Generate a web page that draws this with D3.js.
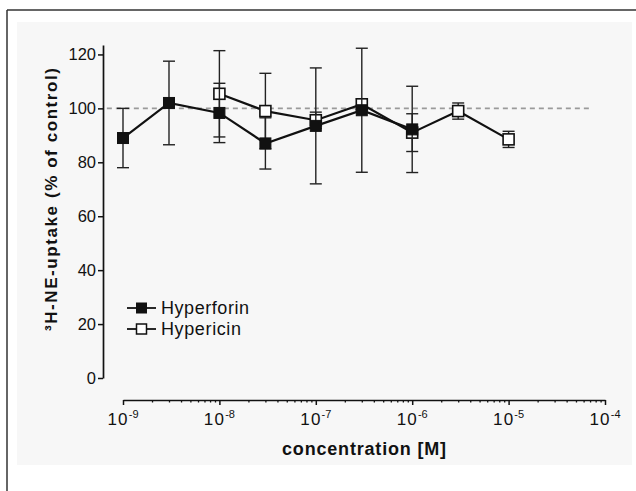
<!DOCTYPE html>
<html><head><meta charset="utf-8">
<script src="https://cdn.jsdelivr.net/npm/d3@7"></script>
<style>
html,body{margin:0;padding:0;background:#fff;}
svg{display:block;font-family:"Liberation Sans",Arial,Helvetica,sans-serif;}
</style></head>
<body>
<svg id="chart" width="636" height="491"></svg>
<script>
// ---- data ----
const hyperforinConc = [1e-9, 3e-9, 1e-8, 3e-8, 1e-7, 3e-7, 1e-6];
const hyperforinMean = [89, 102, 98.3, 87, 93.5, 99.3, 92.2];
const hyperforinErr  = [11, 15.5, 11, 9.5, 21.5, 23, 16];

const hypericinConc = [1e-8, 3e-8, 1e-7, 3e-7, 1e-6, 3e-6, 1e-5];
const hypericinMean = [105.4, 99, 95.6, 101.5, 91, 99, 88.5];
const hypericinErr  = [16, 14, 3, 2, 7, 3, 3];

const yTicks = [0, 20, 40, 60, 80, 100, 120];
const xTickExps = [-9, -8, -7, -6, -5, -4];
const refValue = 100;
const refRange = [6.8e-10, 7.2e-5];
const seriesNames = ["Hyperforin", "Hypericin"];
const xTitle = "concentration [M]";
const yTitle = "\u00B3H-NE-uptake (% of control)";

// ---- layout ----
const svg = d3.select("#chart");
const x = d3.scaleLog().domain([1e-9, 1e-4]).range([123, 605]);
const y = d3.scaleLinear().domain([0, 123.5]).range([378, 45]);

// scan background + frame
svg.append("rect").attr("x", 17).attr("y", 22).attr("width", 615).attr("height", 443).attr("fill", "#f7f7f7");
svg.append("line").attr("x1", 7).attr("x2", 636).attr("y1", 10).attr("y2", 10).attr("stroke", "#333").attr("stroke-width", 1.5);
svg.append("line").attr("x1", 7).attr("x2", 7).attr("y1", 10).attr("y2", 491).attr("stroke", "#333").attr("stroke-width", 1.5);

// y axis
const yAxis = svg.append("g").attr("transform", "translate(103,0)")
  .call(d3.axisLeft(y).tickValues(yTicks).tickSize(5).tickPadding(2).tickSizeOuter(0));
yAxis.select(".domain").attr("stroke", "#111").attr("stroke-width", 1.7);
yAxis.selectAll(".tick line").attr("stroke", "#111").attr("stroke-width", 1.5);
yAxis.selectAll(".tick text").attr("font-size", 16.5).attr("fill", "#111")
  .attr("font-family", "Liberation Sans, Arial, sans-serif");

// x axis
const minorTicks = [];
for (let e = -9; e < -4; e++) for (let m = 2; m <= 9; m++) minorTicks.push(m * Math.pow(10, e));
const xAxisG = svg.append("g").attr("transform", "translate(0,400)");
xAxisG.call(d3.axisBottom(x).tickValues(minorTicks).tickSize(2.5).tickFormat("").tickSizeOuter(0));
xAxisG.select(".domain").attr("stroke", "#111").attr("stroke-width", 1.7);
xAxisG.selectAll(".tick line").attr("stroke", "#111").attr("stroke-width", 1.3);
const xMajor = svg.append("g").attr("transform", "translate(0,400)")
  .call(d3.axisBottom(x).tickValues(xTickExps.map(e => Math.pow(10, e))).tickSize(5).tickFormat("").tickSizeOuter(0));
xMajor.select(".domain").remove();
xMajor.selectAll(".tick line").attr("stroke", "#111").attr("stroke-width", 1.5);

const xl = svg.append("g").selectAll("text").data(xTickExps).join("text")
  .attr("x", d => x(Math.pow(10, d)))
  .attr("y", 425)
  .attr("text-anchor", "middle")
  .attr("fill", "#111");
xl.append("tspan").attr("font-size", 17).attr("letter-spacing", 1.2).text("10");
xl.append("tspan").attr("font-size", 11).attr("dy", -7).text(d => "-" + (-d));

// axis titles
svg.append("text").attr("x", 364).attr("y", 455).attr("text-anchor", "middle")
  .attr("font-weight", "bold").attr("font-size", 18).attr("fill", "#111")
  .attr("textLength", 164).attr("lengthAdjust", "spacing").text(xTitle);
svg.append("text").attr("transform", "translate(57,199.5) rotate(-90)").attr("text-anchor", "middle")
  .attr("font-weight", "bold").attr("font-size", 17).attr("fill", "#111")
  .attr("textLength", 263).attr("lengthAdjust", "spacing").text(yTitle);

// reference dashed line
svg.append("line").attr("x1", x(refRange[0])).attr("x2", x(refRange[1]))
  .attr("y1", y(refValue)).attr("y2", y(refValue))
  .attr("stroke", "#9a9a9a").attr("stroke-width", 1.6).attr("stroke-dasharray", "5,4");

const msize = 11, cap = 6;
function drawSeries(conc, mean, err, filled) {
  const pts = conc.map((c, i) => ({c, m: mean[i], e: err[i]}));
  const g = svg.append("g");
  const eb = g.append("g").attr("stroke", "#222").attr("stroke-width", 1.4);
  pts.forEach(p => {
    eb.append("line").attr("x1", x(p.c)).attr("x2", x(p.c)).attr("y1", y(p.m + p.e)).attr("y2", y(p.m - p.e));
    [p.m + p.e, p.m - p.e].forEach(v => eb.append("line")
      .attr("x1", x(p.c) - cap).attr("x2", x(p.c) + cap).attr("y1", y(v)).attr("y2", y(v)));
  });
  g.append("path").datum(pts)
    .attr("d", d3.line().x(p => x(p.c)).y(p => y(p.m)))
    .attr("fill", "none").attr("stroke", "#111").attr("stroke-width", 2.2);
  g.selectAll("rect").data(pts).join("rect")
    .attr("x", p => x(p.c) - msize / 2).attr("y", p => y(p.m) - msize / 2)
    .attr("width", msize).attr("height", msize)
    .attr("fill", filled ? "#111" : "#fff")
    .attr("stroke", "#111").attr("stroke-width", filled ? 1 : 1.6);
}
drawSeries(hypericinConc, hypericinMean, hypericinErr, false);
drawSeries(hyperforinConc, hyperforinMean, hyperforinErr, true);

// legend
const legend = svg.append("g");
[[308, true], [329, false]].forEach(([ly, filled], i) => {
  legend.append("line").attr("x1", 127).attr("x2", 156).attr("y1", ly).attr("y2", ly)
    .attr("stroke", "#111").attr("stroke-width", 1.8);
  legend.append("rect").attr("x", 141.5 - 5).attr("y", ly - 5).attr("width", 10).attr("height", 10)
    .attr("fill", filled ? "#111" : "#fff").attr("stroke", "#111").attr("stroke-width", filled ? 1 : 1.5);
  legend.append("text").attr("x", 161).attr("y", ly + 6).attr("font-size", 18).attr("fill", "#111")
    .attr("textLength", i === 0 ? 88 : 80).attr("lengthAdjust", "spacing").text(seriesNames[i]);
});
</script>
</body></html>
